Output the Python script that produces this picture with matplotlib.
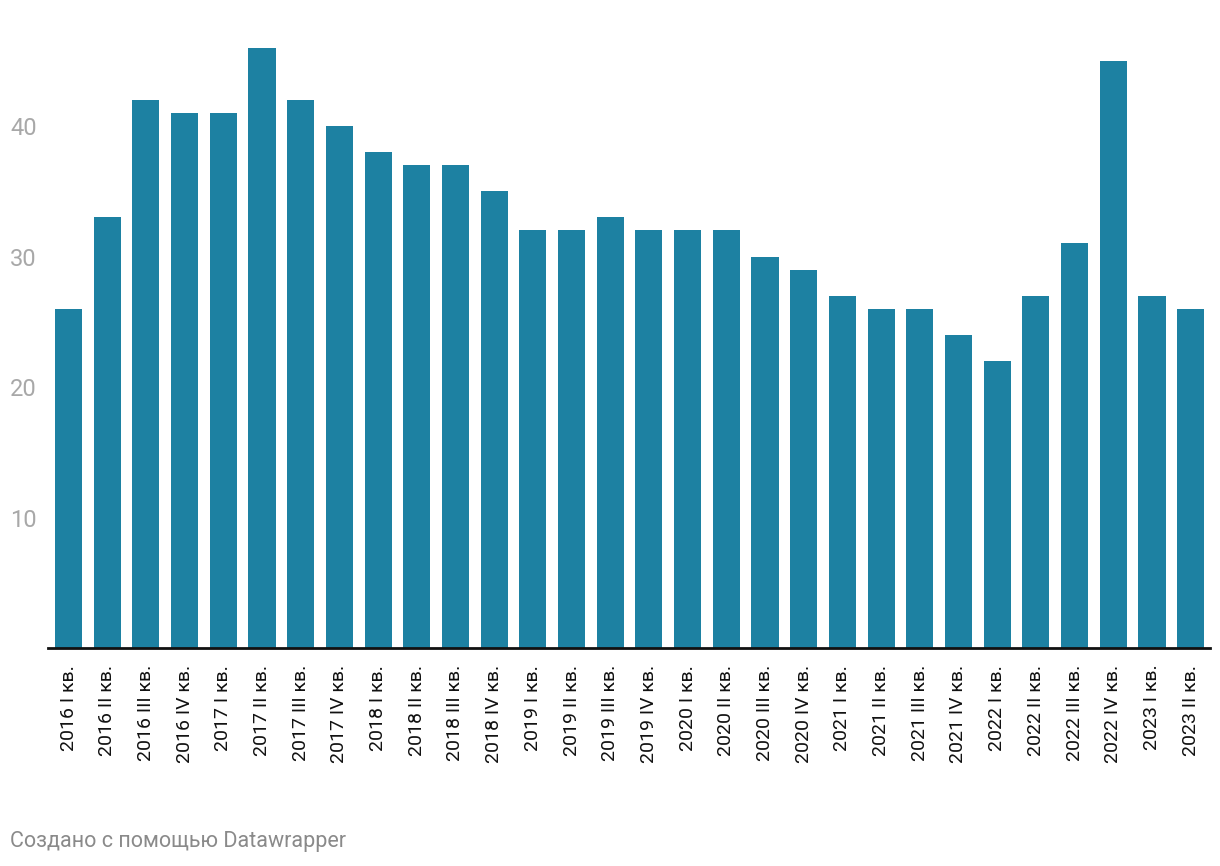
import matplotlib
matplotlib.use("Agg")
import matplotlib.pyplot as plt

# ── Data ───────────────────────────────────────────────
quarters = [
    "2016 I кв.", "2016 II кв.", "2016 III кв.", "2016 IV кв.",
    "2017 I кв.", "2017 II кв.", "2017 III кв.", "2017 IV кв.",
    "2018 I кв.", "2018 II кв.", "2018 III кв.", "2018 IV кв.",
    "2019 I кв.", "2019 II кв.", "2019 III кв.", "2019 IV кв.",
    "2020 I кв.", "2020 II кв.", "2020 III кв.", "2020 IV кв.",
    "2021 I кв.", "2021 II кв.", "2021 III кв.", "2021 IV кв.",
    "2022 I кв.", "2022 II кв.", "2022 III кв.", "2022 IV кв.",
    "2023 I кв.", "2023 II кв.",
]
values = [26, 33, 42, 41, 41, 46, 42, 40, 38, 37, 37, 35, 32, 32, 33,
          32, 32, 32, 30, 29, 27, 26, 26, 24, 22, 27, 31, 45, 27, 26]
y_ticks = [10, 20, 30, 40]

BAR_COLOR = "#1d81a2"

plt.rcParams["font.family"] = ["Roboto", "DejaVu Sans"]

W, H = 1220, 866
fig = plt.figure(figsize=(W / 100, H / 100), dpi=100)
ax = fig.add_axes([48 / W, 1 - 648 / H, (1210 - 48) / W, 648 / H])

x = range(len(values))
ax.bar(x, values, width=0.70, color=BAR_COLOR, zorder=2)

ax.set_xlim(-0.53, len(values) - 0.5)
ax.set_ylim(0, 49.66)

ax.set_xticks(list(x))
ax.set_xticklabels(quarters, rotation=90, fontsize=14, color="#111111")
ax.set_yticks(y_ticks)
ax.set_yticklabels([str(v) for v in y_ticks], fontsize=17, color="#a8a8a8")
ax.tick_params(axis="x", length=0, pad=12)
ax.tick_params(axis="y", length=0, pad=8)

for side in ["top", "right", "left"]:
    ax.spines[side].set_visible(False)
ax.spines["bottom"].set_linewidth(2)
ax.spines["bottom"].set_color("#111111")
ax.spines["bottom"].set_zorder(3)

fig.text(10 / W, 1 - 841 / H, "Создано с помощью Datawrapper",
         fontsize=15.5, color="#8a8a8a", va="center", ha="left")

fig.savefig("out.png", dpi=100)
